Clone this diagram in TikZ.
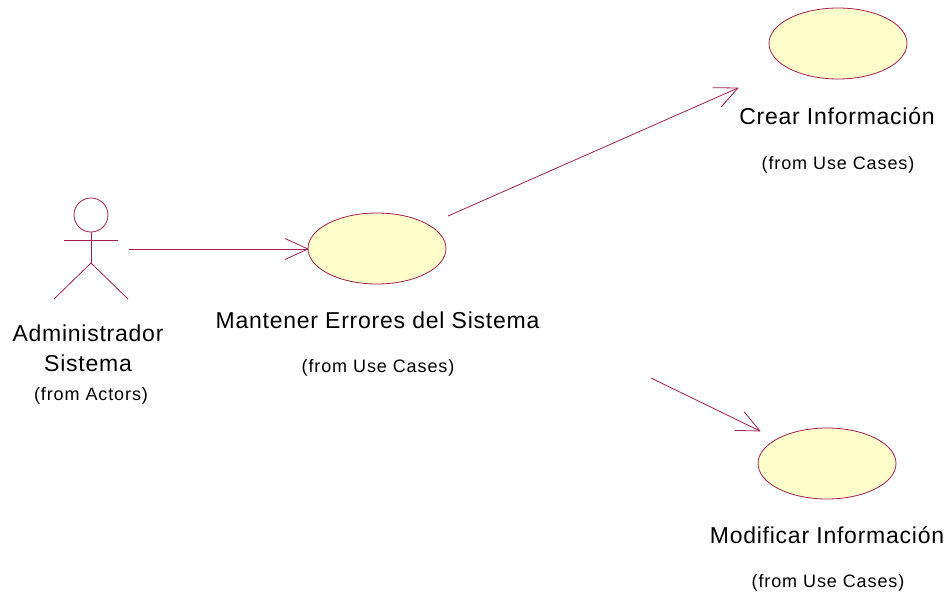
\documentclass[tikz,border=0pt]{standalone}
\usepackage{fontspec}
\setmainfont{Liberation Sans}
\newfontfamily\lblfont[LetterSpace=3.3]{Liberation Sans}
\newfontfamily\subfont[LetterSpace=5]{Liberation Sans}
\usetikzlibrary{arrows.meta,shapes.geometric}
\definecolor{umlline}{RGB}{165,30,80}
\definecolor{umlfill}{RGB}{255,255,203}
\pgfdeclarearrow{
  name=VHead,
  setup code={\pgfarrowssettipend{0pt}\pgfarrowssetlineend{-0.3pt}\pgfarrowssetbackend{-23pt}\pgfarrowssetvisualbackend{-0.3pt}},
  drawing code={\pgfsetdash{}{0pt}\pgfsetroundjoin
    \pgfpathmoveto{\pgfpoint{-23pt}{10.5pt}}\pgfpathlineto{\pgfpointorigin}\pgfpathlineto{\pgfpoint{-23pt}{-10.5pt}}\pgfusepathqstroke}
}
\tikzset{
  usecase/.style={ellipse,draw=umlline,fill=umlfill,line width=0.8pt,minimum width=138pt,minimum height=71pt,inner sep=0pt},
  lbl/.style={font=\lblfont\fontsize{23}{30}\selectfont,text=black,inner sep=0pt,align=center},
  sub/.style={font=\subfont\fontsize{18}{21}\selectfont,text=black,inner sep=0pt,align=center},
  figure/.style={draw=umlline,line width=0.8pt},
  assoc/.style={draw=umlline,line width=0.8pt,-{VHead}}
}
\begin{document}
\begin{tikzpicture}[x=1pt,y=-1pt]
\useasboundingbox (0,0) rectangle (946,592);
\node[usecase] (crear) at (838,43.5) {};
\node[usecase] (mantener) at (377,248.5) {};
\node[usecase] (modificar) at (827,463.5) {};
\node[lbl] (lcrear) at (837,116) {Crear Información};
\node[sub] (screar) at (838,164.5) {(from Use Cases)};
\node[lbl] (lmant) at (377.5,320) {Mantener Errores del Sistema};
\node[sub] (smant) at (378,367.5) {(from Use Cases)};
\node[lbl] (lmod) at (827,535) {Modificar Información};
\node[sub] (smod) at (828,582.5) {(from Use Cases)};
\node[lbl] (ladmin) at (88,348) {Administrador\\Sistema};
\node[sub] (sadmin) at (91,395.5) {(from Actors)};
% actor
\node[circle,figure,minimum size=34pt,inner sep=0pt] (head) at (91,215) {};
\coordinate (hip) at (91,263);
\coordinate (armL) at (64,240);
\coordinate (armR) at (118,240);
\coordinate (footL) at (54,299);
\coordinate (footR) at (128,299);
\draw[figure] (head.south) -- (hip);
\draw[figure] (armL) -- (armR);
\draw[figure] (footL) -- (hip) -- (footR);
% connectors
\coordinate (a1) at (129,249);
\coordinate (b1) at (308,249);
\coordinate (a2) at (448,216);
\coordinate (b2) at (738,88);
\coordinate (a3) at (651,378);
\coordinate (b3) at (760,431);
\draw[assoc] (a1) -- (b1);
\draw[assoc] (a2) -- (b2);
\draw[assoc] (a3) -- (b3);
\end{tikzpicture}
\end{document}
